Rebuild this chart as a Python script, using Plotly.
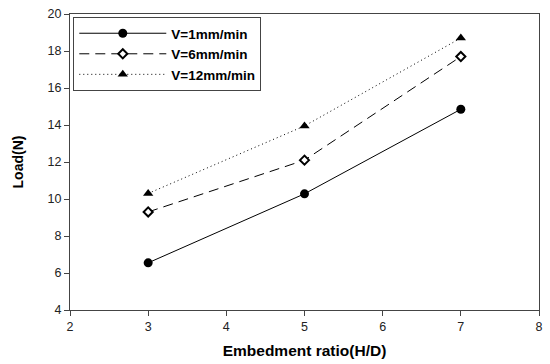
import plotly.graph_objects as go

ratio = [3, 5, 7]
load_v1 = [6.55, 10.28, 14.85]
load_v6 = [9.3, 12.1, 17.7]
load_v12 = [10.3, 13.95, 18.7]
names = ["V=1mm/min", "V=6mm/min", "V=12mm/min"]

fig = go.Figure()
fig.add_trace(go.Scatter(x=ratio, y=load_v1, name=names[0], mode="lines+markers",
                         line=dict(color="black", width=1),
                         marker=dict(symbol="circle", size=9, color="black")))
fig.add_trace(go.Scatter(x=ratio, y=load_v6, name=names[1], mode="lines+markers",
                         line=dict(color="black", width=1, dash="10px,6px"),
                         marker=dict(symbol="diamond", size=7, color="white",
                                     line=dict(color="black", width=2))))
fig.add_trace(go.Scatter(x=ratio, y=load_v12, name=names[2], mode="lines+markers",
                         line=dict(color="black", width=1, dash="1px,3px"),
                         marker=dict(symbol="triangle-up", size=9, color="black")))

axis_common = dict(showgrid=False, zeroline=False, showline=True, linecolor="#444",
                   linewidth=1, mirror=True, ticks="outside", ticklen=5,
                   tickcolor="#444", tickfont=dict(family="Liberation Sans, Arial", size=12.5, color="#222"))

fig.update_layout(
    width=550, height=364,
    margin=dict(l=70, r=7, t=10, b=52),
    paper_bgcolor="white", plot_bgcolor="white",
    showlegend=True,
    legend=dict(x=0.007, y=0.99, xanchor="left", yanchor="top",
                bordercolor="#444", borderwidth=1, bgcolor="white",
                font=dict(family="Liberation Sans, Arial", size=13.5, color="black", weight="bold"),
                itemwidth=87, tracegroupgap=0),
    xaxis=dict(range=[2, 8], dtick=1,
               title=dict(text="<b>Embedment ratio(H/D)</b>", standoff=12,
                          font=dict(family="Liberation Sans, Arial", size=15.5, color="black")),
               **axis_common),
    yaxis=dict(range=[4, 20], dtick=2,
               title=dict(text="<b>Load(N)</b>", standoff=20,
                          font=dict(family="Liberation Sans, Arial", size=14, color="black")),
               **axis_common),
)

fig.write_html("out.html")
